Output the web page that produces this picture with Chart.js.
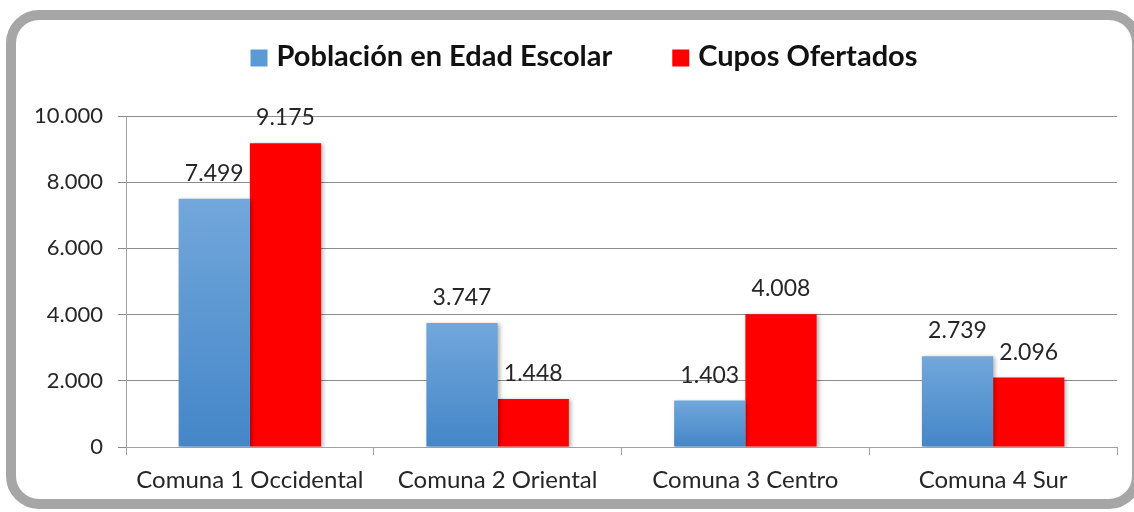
<!DOCTYPE html>
<html>
<head>
<meta charset="utf-8">
<script src="https://cdn.jsdelivr.net/npm/chart.js@4/dist/chart.umd.min.js"></script>
<style>
  html, body { margin: 0; padding: 0; background: #fff; }
  #wrap { width: 1134px; height: 512px; position: relative; }
</style>
</head>
<body>
<div id="wrap"><canvas id="myChart" width="1134" height="512"></canvas></div>
<script>
// datos
var comunas = ['Comuna 1 Occidental', 'Comuna 2 Oriental', 'Comuna 3 Centro', 'Comuna 4 Sur'];
var poblacion = [7499, 3747, 1403, 2739];
var cupos = [9175, 1448, 4008, 2096];
var yTicks = [0, 2000, 4000, 6000, 8000, 10000];

var fuente = 'Lato, "Open Sans", sans-serif';
var colores = ['#5b9bd5', '#ff0000'];

function miles(v) {
  return String(v).replace(/\B(?=(\d{3})+(?!\d))/g, '.');
}

// marco gris redondeado
var marco = {
  id: 'marco',
  beforeDraw: function(chart) {
    var c = chart.ctx;
    c.save();
    c.strokeStyle = '#a6a6a6';
    c.lineWidth = 10;
    c.beginPath();
    c.roundRect(11, 15, 1126, 489, 28);
    c.stroke();
    c.restore();
  }
};

// leyenda arriba, centrada como en el original
var leyenda = {
  id: 'leyenda',
  afterDraw: function(chart) {
    var c = chart.ctx;
    c.save();
    c.font = 'bold 29px ' + fuente;
    c.textBaseline = 'middle';
    c.textAlign = 'left';
    var caja = 17, hueco = 9, sep = 60;
    var anchos = chart.data.datasets.map(function(ds) { return c.measureText(ds.label).width; });
    var total = 0;
    anchos.forEach(function(w, i) { total += caja + hueco + w + (i > 0 ? sep : 0); });
    var x = 584 - total / 2;
    var y = 57;
    chart.data.datasets.forEach(function(ds, i) {
      c.fillStyle = colores[i];
      c.fillRect(x, y - caja / 2 + 1, caja, caja);
      c.fillStyle = '#111';
      c.fillText(ds.label, x + caja + hueco, y);
      x += caja + hueco + anchos[i] + sep;
    });
    c.restore();
  }
};

// sombra de las barras
var sombra = {
  id: 'sombra',
  beforeDatasetsDraw: function(chart) {
    var c = chart.ctx;
    c.save();
    c.shadowColor = 'rgba(0,0,0,0.3)';
    c.shadowBlur = 4;
    c.shadowOffsetX = 2;
    c.shadowOffsetY = 1;
  },
  afterDatasetsDraw: function(chart) {
    chart.ctx.restore();
  }
};

// etiquetas de valores
var etiquetas = {
  id: 'etiquetas',
  afterDatasetsDraw: function(chart) {
    var c = chart.ctx;
    c.save();
    c.font = '23px ' + fuente;
    c.fillStyle = '#262626';
    c.textAlign = 'center';
    c.textBaseline = 'alphabetic';
    chart.data.datasets.forEach(function(ds, i) {
      chart.getDatasetMeta(i).data.forEach(function(bar, j) {
        c.fillText(miles(ds.data[j]), bar.x, bar.y - 18);
      });
    });
    c.restore();
  }
};

function azul(context) {
  var chart = context.chart;
  if (!chart.chartArea) return colores[0];
  var y = chart.scales.y;
  var top = y.getPixelForValue(context.raw);
  var bottom = y.getPixelForValue(0);
  if (!isFinite(top) || top === bottom) return colores[0];
  var g = chart.ctx.createLinearGradient(0, top, 0, bottom);
  g.addColorStop(0, '#72a7db');
  g.addColorStop(1, '#4486c8');
  return g;
}

const ctx = document.getElementById('myChart');

var graphData = {
  type: 'bar',
  data: {
    labels: comunas,
    datasets: [{
      label: 'Población en Edad Escolar',
      data: poblacion,
      backgroundColor: azul,
      borderWidth: 0,
      categoryPercentage: 0.575,
      barPercentage: 1
    },
    {
      label: 'Cupos Ofertados',
      data: cupos,
      backgroundColor: colores[1],
      borderWidth: 0,
      categoryPercentage: 0.575,
      barPercentage: 1
    }]
  },
  options: {
    responsive: false,
    animation: false,
    layout: { padding: { left: 0, right: 17, top: 116, bottom: 0 } },
    plugins: {
      tooltip: { enabled: false },
      legend: { display: false }
    },
    scales: {
      x: {
        grid: { drawOnChartArea: false, drawTicks: true, tickLength: 8, color: '#a0a0a0', offset: true },
        border: { color: '#a0a0a0' },
        ticks: { font: { family: fuente, size: 24 }, color: '#262626', padding: 11 },
        afterFit: function(scale) { scale.height = 65; }
      },
      y: {
        min: 0,
        max: 10000,
        afterBuildTicks: function(scale) {
          scale.ticks = yTicks.map(function(v) { return { value: v }; });
        },
        grid: { color: '#8c8c8c', tickLength: 8 },
        border: { color: '#a0a0a0' },
        ticks: {
          font: { family: fuente, size: 22 },
          color: '#262626',
          padding: 15,
          callback: function(v) { return miles(v); }
        },
        afterFit: function(scale) { scale.width = 126; }
      }
    }
  },
  plugins: [marco, sombra, etiquetas, leyenda]
};

var myChart = new Chart(ctx, graphData);
</script>
</body>
</html>
